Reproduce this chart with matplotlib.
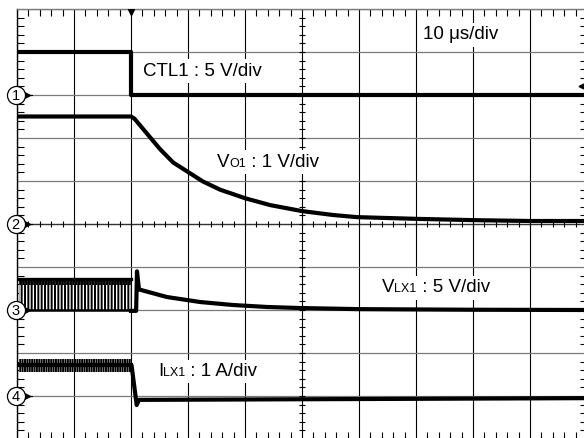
import matplotlib
matplotlib.use("Agg")
import matplotlib.pyplot as plt
import numpy as np
from matplotlib.offsetbox import AnnotationBbox, HPacker, TextArea
from matplotlib.transforms import Affine2D

plt.rcParams["font.family"] = ["Liberation Sans", "DejaVu Sans"]
plt.rcParams["hatch.linewidth"] = 1.4

# time axis in microseconds, 10 us/div
T_DIV = 10.0

# channel placement on screen: (reference division, units per division)
CH_OFFSET = [8.0, 5.0, 3.0, 1.0]
CH_SCALE = [5.0, 1.0, 5.0, 1.0]

# CTL1 [V]
ctl_t = [0.3, 20.0, 20.0, 100.0]
ctl_v = [5.0, 5.0, 0.0, 0.0]

# VO1 [V]
vo_t = [0.3, 20.0, 20.6, 22.5, 25.1, 27.4, 30.0, 32.6, 35.6, 40.0, 44.4,
        50.0, 55.4, 59.6, 70.0, 80.0, 90.0, 100.0]
vo_v = [2.50, 2.50, 2.45, 2.15, 1.74, 1.43, 1.21, 0.99, 0.80, 0.60, 0.44,
        0.30, 0.21, 0.16, 0.12, 0.09, 0.07, 0.07]

# VLX1 [V]: switching band before turn-off, then decay
vlx_sw_t = [0.3, 20.0]
vlx_sw_lo, vlx_sw_hi, vlx_sw_dense = 0.0, 3.6, 2.9
vlx_t = [20.0, 20.9, 21.05, 21.4, 21.9, 26.3, 32.1, 37.9, 43.9, 49.6, 60.0, 80.0, 100.0]
vlx_v = [-0.1, -0.1, 4.5, 2.4, 2.3, 1.51, 0.93, 0.58, 0.35, 0.23, 0.10, 0.03, 0.0]

# ILX1 [A]: ripple band before turn-off, then fall
ilx_band_t = [0.3, 20.0]
ilx_band_lo, ilx_band_hi, ilx_mid = 0.56, 0.85, 0.71
ilx_t = [20.0, 20.1, 21.0, 21.4, 100.0]
ilx_v = [0.71, 0.71, -0.21, -0.09, -0.05]

fig = plt.figure(figsize=(5.84, 4.38), dpi=100)
ax = fig.add_axes([17 / 584, -1 / 438, 570 / 584, 430 / 438])
ax.set_xlim(0, 10 * T_DIV)
ax.set_ylim(0, 10)

# graticule
ax.set_xticks(np.arange(0, 10 * T_DIV + 1, T_DIV))
ax.set_yticks(np.arange(0, 11, 1))
ax.set_xticks(np.arange(0, 10 * T_DIV + 0.1, T_DIV / 5), minor=True)
ax.set_yticks(np.arange(0, 10.01, 0.2), minor=True)
ax.tick_params(which="major", length=0, labelbottom=False, labelleft=False)
ax.tick_params(which="minor", direction="in", length=5, width=0.8,
               top=True, right=True, bottom=True, left=True, colors="black")
ax.xaxis.grid(True, color="black", lw=0.8)
ax.yaxis.grid(True, color="#7a7a7a", lw=0.9)
ax.set_axisbelow(True)
for side in ["left", "right", "bottom"]:
    ax.spines[side].set_color("black")
    ax.spines[side].set_linewidth(1.0)
ax.spines["top"].set_color("#7a7a7a")
ax.spines["top"].set_linewidth(1.0)

ax.axhline(5, color="#333333", lw=0.9, zorder=1)
xc = np.arange(0, 10 * T_DIV + 0.1, T_DIV / 5)
yc = np.arange(0, 10.01, 0.2)
ax.plot(xc, np.full_like(xc, 5.0), ls="none", marker="|", ms=5, mew=0.8,
        color="black", zorder=1)
ax.plot(np.full_like(yc, 5 * T_DIV), yc, ls="none", marker="_", ms=5, mew=0.8,
        color="black", zorder=1)


def chan(i):
    return (Affine2D().scale(1, 1 / CH_SCALE[i]).translate(0, CH_OFFSET[i])
            + ax.transData)


lw = 3.0
ax.plot(ctl_t, ctl_v, color="black", lw=lw, transform=chan(0), zorder=4)
ax.plot(vo_t, vo_v, color="black", lw=lw, transform=chan(1), zorder=4)

ax.fill_between(vlx_sw_t, vlx_sw_lo, vlx_sw_dense, transform=chan(2),
                facecolor="white", edgecolor="black", hatch="|||||", lw=0, zorder=4)
ax.fill_between(vlx_sw_t, vlx_sw_dense, vlx_sw_hi, transform=chan(2),
                facecolor="#333333", edgecolor="black", hatch="||||||", lw=0, zorder=4)
ax.plot(vlx_sw_t, [vlx_sw_hi] * 2, color="black", lw=2.4, transform=chan(2), zorder=4)
ax.plot(vlx_sw_t, [vlx_sw_lo] * 2, color="black", lw=1.8, transform=chan(2), zorder=4)
ax.plot(vlx_t, vlx_v, color="black", lw=lw, transform=chan(2), zorder=4)

ax.fill_between(ilx_band_t, ilx_band_lo, ilx_band_hi, transform=chan(3),
                facecolor="white", edgecolor="black", hatch="|||||||", lw=0, zorder=4)
ax.plot(ilx_band_t, [ilx_mid] * 2, color="black", lw=3.0, transform=chan(3), zorder=4)
ax.plot(ilx_t, ilx_v, color="black", lw=lw, transform=chan(3), zorder=4)

# channel ground markers
for i, off in enumerate(CH_OFFSET):
    ax.plot([0.9, 2.6], [off, off], color="black", lw=0.8, clip_on=False, zorder=5)
    ax.plot(1.7, off, marker=">", ms=4, color="black", clip_on=False, zorder=5)
    ax.plot(-0.26, off, marker="o", ms=13, mfc="white", mec="black", mew=0.9,
            clip_on=False, zorder=6)
    ax.text(-0.26, off - 0.02, str(i + 1), ha="center", va="center", fontsize=10.5,
            clip_on=False, zorder=7)

# trigger position and level markers
ax.plot(2 * T_DIV, 9.93, marker="v", ms=4, color="black", zorder=5)
ax.plot(99.0, 8.2, marker="<", ms=3.5, color="black", zorder=5)


def scope_label(x, y, parts):
    boxes = [TextArea(s, textprops=dict(fontsize=fs, color="black")) for s, fs in parts]
    pack = HPacker(children=boxes, align="baseline", pad=0, sep=0)
    ab = AnnotationBbox(pack, (x, y), xycoords="data", box_alignment=(0, 0.5),
                        frameon=True, pad=0.25,
                        bboxprops=dict(facecolor="white", edgecolor="none"))
    ab.set_zorder(3)
    ax.add_artist(ab)


BIG, SMALL = 13.5, 9.0
scope_label(71.2, 9.40, [("10 \u03bcs/div", BIG)])
scope_label(22.1, 8.55, [("CTL1 : 5 V/div", BIG)])
scope_label(35.0, 6.44, [("V", BIG), ("O1", SMALL), (" : 1 V/div", BIG)])
scope_label(64.0, 3.52, [("V", BIG), ("LX1", SMALL), (" : 5 V/div", BIG)])
scope_label(24.7, 1.57, [("I", BIG), ("LX1", SMALL), (" : 1 A/div", BIG)])

fig.savefig("out.png", dpi=100)
